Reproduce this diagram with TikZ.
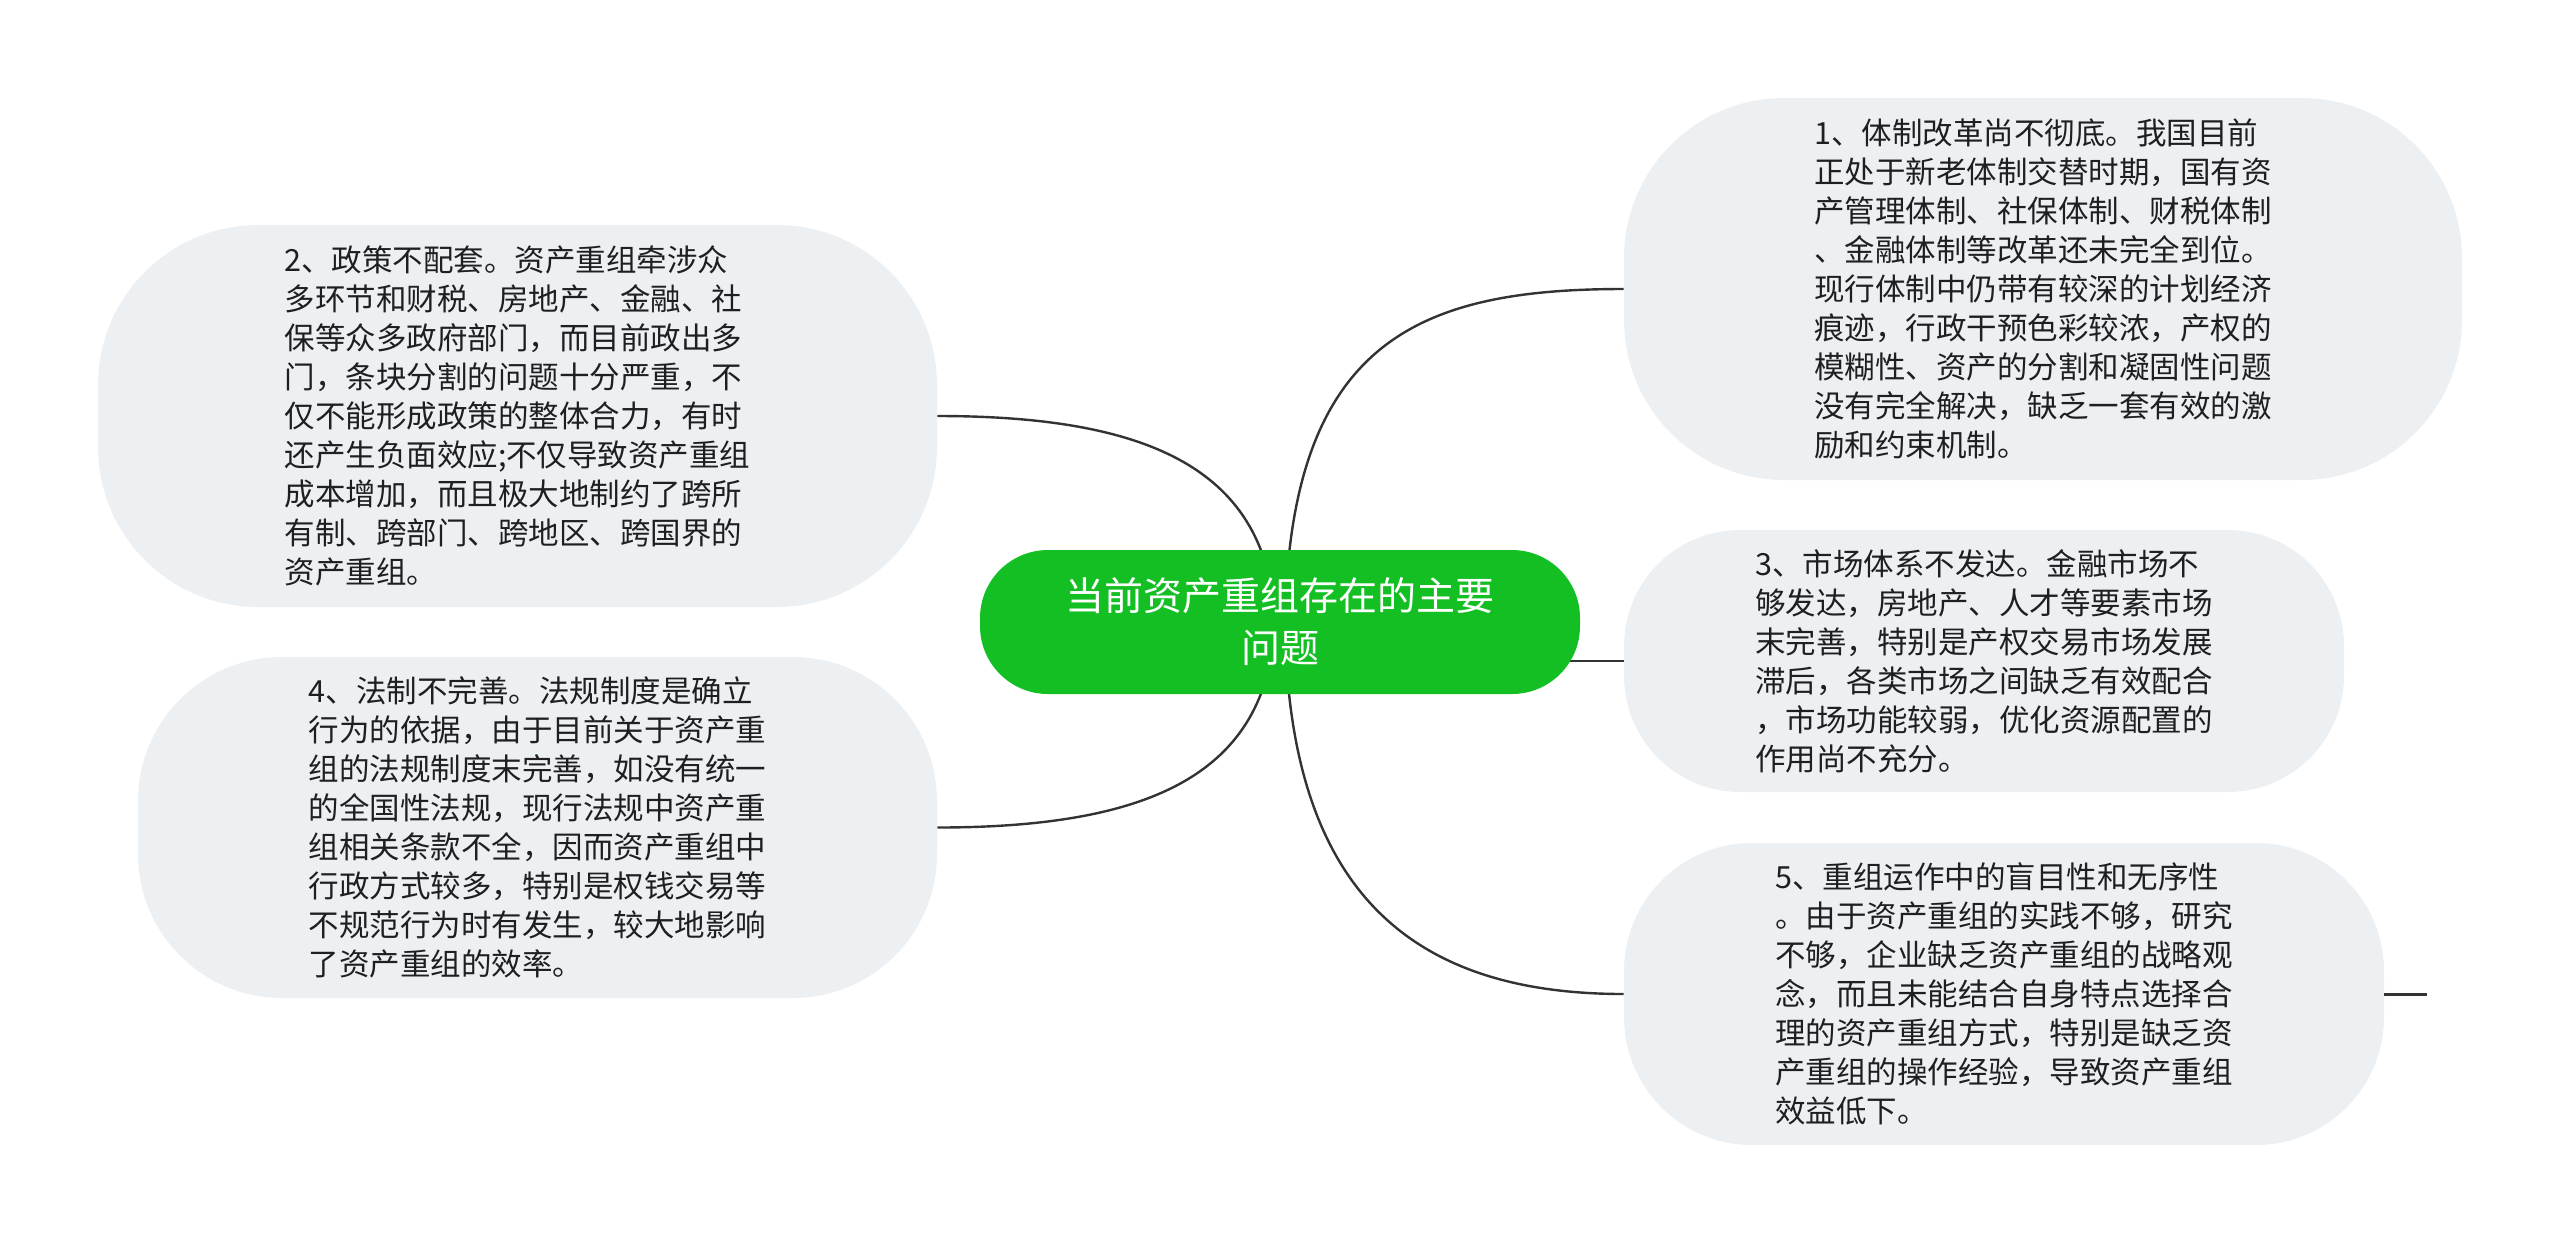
\documentclass[tikz,border=0pt]{standalone}
\usepackage{fontspec}
\setmainfont{Noto Sans CJK SC}
\usetikzlibrary{calc,backgrounds}
\definecolor{topicgreen}{HTML}{13BF22}
\definecolor{bubblegray}{HTML}{EDF0F3}
\definecolor{linkgray}{HTML}{333333}

\begin{document}
\begin{tikzpicture}[
  x=0.5pt, y=-0.5pt,
  bubble/.style={fill=bubblegray, inner sep=0pt, align=left, text=black!88,
    font=\fontsize{15.25}{19.5}\selectfont},
  root/.style={fill=topicgreen, text=white, inner sep=0pt, align=center,
    minimum width=300pt, minimum height=72pt, rounded corners=34pt,
    font=\fontsize{19.5}{26}\selectfont},
  link/.style={draw=linkgray, line width=1.2pt}
]
  \useasboundingbox (0,0) rectangle (2560,1244);

  \node[root] (main) at (1280,622) {当前资产重组存在的主要\\问题};

  % left side
  \node[bubble, minimum width=419.5pt, minimum height=191pt, rounded corners=80pt] (L2) at (517.5,416)
    {2、政策不配套。资产重组牵涉众\\多环节和财税、房地产、金融、社\\保等众多政府部门，而目前政出多\\门，条块分割的问题十分严重，不\\仅不能形成政策的整体合力，有时\\还产生负面效应;不仅导致资产重组\\成本增加，而且极大地制约了跨所\\有制、跨部门、跨地区、跨国界的\\资产重组。};
  \node[bubble, minimum width=399.5pt, minimum height=170.5pt, rounded corners=72pt] (L4) at (537.5,827.5)
    {4、法制不完善。法规制度是确立\\行为的依据，由于目前关于资产重\\组的法规制度末完善，如没有统一\\的全国性法规，现行法规中资产重\\组相关条款不全，因而资产重组中\\行政方式较多，特别是权钱交易等\\不规范行为时有发生，较大地影响\\了资产重组的效率。};

  % right side
  \node[bubble, minimum width=419pt, minimum height=191pt, rounded corners=80pt] (R1) at (2043,289)
    {1、体制改革尚不彻底。我国目前\\正处于新老体制交替时期，国有资\\产管理体制、社保体制、财税体制\\、金融体制等改革还未完全到位。\\现行体制中仍带有较深的计划经济\\痕迹，行政干预色彩较浓，产权的\\模糊性、资产的分割和凝固性问题\\没有完全解决，缺乏一套有效的激\\励和约束机制。};
  \node[bubble, minimum width=360pt, minimum height=131pt, rounded corners=58pt] (R3) at (1984,661)
    {3、市场体系不发达。金融市场不\\够发达，房地产、人才等要素市场\\末完善，特别是产权交易市场发展\\滞后，各类市场之间缺乏有效配合\\，市场功能较弱，优化资源配置的\\作用尚不充分。};
  \node[bubble, minimum width=380pt, minimum height=151pt, rounded corners=64pt] (R5) at (2004,994)
    {5、重组运作中的盲目性和无序性\\。由于资产重组的实践不够，研究\\不够，企业缺乏资产重组的战略观\\念，而且未能结合自身特点选择合\\理的资产重组方式，特别是缺乏资\\产重组的操作经验，导致资产重组\\效益低下。};
  \coordinate (R5tail) at ($(R5.east)+(43,0)$);

  \begin{scope}[on background layer]
    \draw[link] (L2.east) .. controls +(213,0) and ($(main.center)+(-12,-152)$) .. ($(main.center)+(-5,0)$);
    \draw[link] (L4.east) .. controls +(213,0) and ($(main.center)+(-12,152)$) .. ($(main.center)+(-5,0)$);
    \draw[link] (R1.west) .. controls +(-204,0) and ($(main.center)+(10,-282)$) .. ($(main.center)+(5,0)$);
    \draw[link] (R5.west) .. controls +(-204,0) and ($(main.center)+(8,278)$) .. ($(main.center)+(5,0)$);
    \draw[link] (R3.west) -- (R3.west -| main.center);
  \end{scope}
  \draw[link, line width=1.5pt] (R5.east) -- (R5tail);
\end{tikzpicture}
\end{document}
